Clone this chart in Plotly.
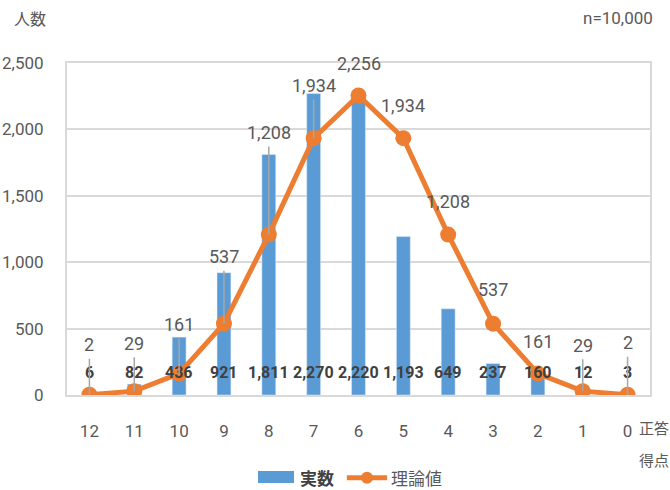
import plotly.graph_objects as go

# Score categories (correct answers), from 12 down to 0
scores = ["12", "11", "10", "9", "8", "7", "6", "5", "4", "3", "2", "1", "0"]
# Observed counts
actual = [6, 82, 436, 921, 1811, 2270, 2220, 1193, 649, 237, 160, 12, 3]
# Theoretical (binomial) counts
theory = [2, 29, 161, 537, 1208, 1934, 2256, 1934, 1208, 537, 161, 29, 2]
y_ticks = [0, 500, 1000, 1500, 2000, 2500]

BLUE = "#5B9BD5"
ORANGE = "#ED7D31"
GRAY = "#595959"
DARK = "#404040"
GRID = "#D9D9D9"
FONT = "Roboto, Noto Sans CJK JP, sans-serif"
CJK = "Noto Sans CJK JP, sans-serif"

# pixel offsets of the theory labels above their points, and whether a leader line is drawn
label_offsets = [-50, -48, -49, -67, -102, -53, -32, -33, -33, -34, -32, -46, -52]
leaders = [True, True, True, True, True, True, False, False, False, False, False, True, True]
bar_label_level = 173

fig = go.Figure()
fig.add_trace(go.Bar(
    x=scores, y=actual, name="実数", marker_color=BLUE, width=0.31,
    showlegend=False,
))
fig.add_trace(go.Scatter(
    x=scores, y=theory, name="理論値", mode="lines+markers",
    line=dict(color=ORANGE, width=5),
    marker=dict(color=ORANGE, size=16),
    showlegend=False,
))

annotations = []
# on a category axis annotations are placed by category index
for i, v in enumerate(actual):
    annotations.append(dict(
        x=i, y=bar_label_level, text=f"{v:,}", showarrow=False,
        font=dict(family=FONT, size=16, color=DARK, weight="bold"),
        yanchor="middle",
    ))
for i, (v, off, lead) in enumerate(zip(theory, label_offsets, leaders)):
    annotations.append(dict(
        x=i, y=v, text=f"{v:,}", showarrow=True, ax=0, ay=off,
        arrowhead=0, arrowwidth=1.5,
        arrowcolor="#A6A6A6" if lead else "rgba(0,0,0,0)",
        standoff=0, startstandoff=2,
        font=dict(family=FONT, size=18, color=GRAY),
    ))

# titles and captions
annotations += [
    dict(xref="paper", yref="paper", x=-0.0635, y=1.1355, text="人数", showarrow=False,
         font=dict(family=CJK, size=16, color=GRAY), xanchor="center", yanchor="middle"),
    dict(xref="paper", yref="paper", x=1.0086, y=1.1355, text="n=10,000", showarrow=False,
         font=dict(family=FONT, size=17, color=GRAY), xanchor="right", yanchor="middle"),
    dict(xref="paper", yref="paper", x=0.977, y=-0.0964, text="正答", showarrow=False,
         font=dict(family=CJK, size=15, color=GRAY), xanchor="left", yanchor="middle"),
    dict(xref="paper", yref="paper", x=0.977, y=-0.1928, text="得点", showarrow=False,
         font=dict(family=CJK, size=15, color=GRAY), xanchor="left", yanchor="middle"),
    # legend texts
    dict(xref="paper", yref="paper", x=0.397, y=-0.247, text="実数", showarrow=False,
         font=dict(family=CJK, size=17, color=DARK, weight="bold"), xanchor="left", yanchor="middle"),
    dict(xref="paper", yref="paper", x=0.553, y=-0.247, text="理論値", showarrow=False,
         font=dict(family=CJK, size=17, color=GRAY), xanchor="left", yanchor="middle"),
]

shapes = [
    # legend key: bar
    dict(type="rect", xref="paper", yref="paper", x0=0.3276, x1=0.3894, y0=-0.265, y1=-0.2289,
         fillcolor=BLUE, line=dict(width=0)),
    # legend key: line with marker
    dict(type="line", xref="paper", yref="paper", x0=0.480, x1=0.549, y0=-0.249, y1=-0.249,
         line=dict(color=ORANGE, width=5)),
    dict(type="circle", xref="paper", yref="paper", x0=0.5146 - 0.0103, x1=0.5146 + 0.0103,
         y0=-0.249 - 0.018, y1=-0.249 + 0.018, fillcolor=ORANGE, line=dict(width=0)),
]

fig.update_layout(
    width=670, height=490,
    margin=dict(l=67, r=20, t=63, b=95),
    paper_bgcolor="white", plot_bgcolor="white",
    font=dict(family=FONT, color=GRAY, size=16),
    annotations=annotations, shapes=shapes,
    bargap=0.69,
)
fig.update_xaxes(
    type="category", categoryorder="array", categoryarray=scores,
    range=[-0.5, len(scores) - 0.5], automargin=False,
    showline=True, mirror=True, linecolor=GRID, linewidth=2,
    showgrid=False, ticks="", ticklabelstandoff=20,
    tickfont=dict(family=FONT, size=17, color=GRAY),
)
fig.update_yaxes(
    range=[0, 2500], tickvals=y_ticks, tickformat=",", automargin=False,
    showline=True, mirror=True, linecolor=GRID, linewidth=2,
    showgrid=True, gridcolor=GRID, gridwidth=2, zeroline=False,
    ticks="", ticklabelstandoff=18,
    tickfont=dict(family=FONT, size=17, color=GRAY),
)

fig.write_html("out.html")
